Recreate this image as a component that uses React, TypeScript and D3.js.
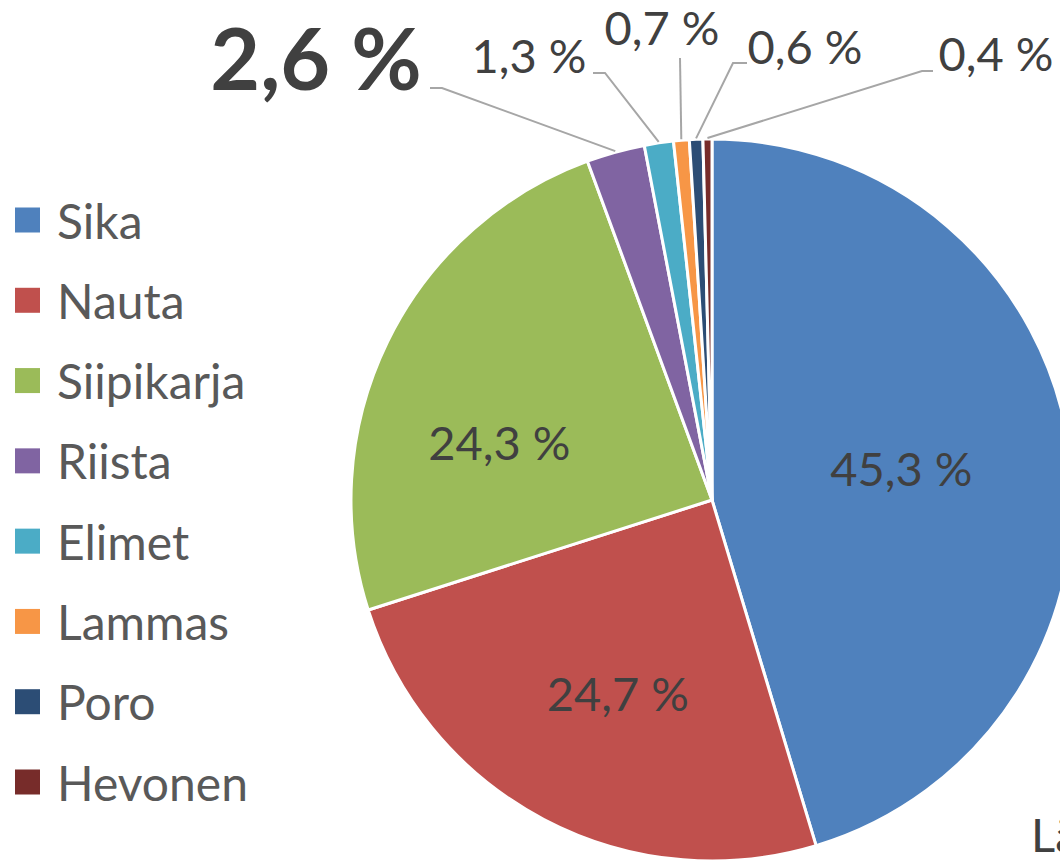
import React from "react";
import * as d3 from "d3";

const categories = ["Sika", "Nauta", "Siipikarja", "Riista", "Elimet", "Lammas", "Poro", "Hevonen"];
const values = [45.3, 24.7, 24.3, 2.6, 1.3, 0.7, 0.6, 0.4];
const labels = ["45,3 %", "24,7 %", "24,3 %", "2,6 %", "1,3 %", "0,7 %", "0,6 %", "0,4 %"];
const colors = ["#4F81BD", "#C0504D", "#9BBB59", "#8064A2", "#4BACC6", "#F79646", "#2C4D75", "#772C2A"];

// layout (not data)
const W = 1060, H = 863;
const CX = 712, CY = 500, R = 361;
const FONT = "Lato, 'Open Sans', sans-serif";
// inner labels: radius factor and small nudge
const innerLayout: Record<number, { rf: number; dx: number; dy: number }> = {
  0: { rf: 0.53, dx: 0, dy: -4 },
  1: { rf: 0.56, dx: 0, dy: 14 },
  2: { rf: 0.6, dx: -18, dy: 37 },
};
// outer labels: text anchor position, elbow point
const outerLayout: Record<number, { tx: number; ty: number; anchor: string; ex: number; ey: number; hx: number; size: number; bold?: boolean }> = {
  3: { tx: 316, ty: 90, anchor: "middle", hx: 430, ex: 442, ey: 88, size: 86, bold: true },
  4: { tx: 529, ty: 73, anchor: "middle", hx: 593, ex: 605, ey: 73, size: 47 },
  5: { tx: 662, ty: 45, anchor: "middle", hx: 680, ex: 680, ey: 58, size: 47 },
  6: { tx: 805, ty: 64, anchor: "middle", hx: 747, ex: 733, ey: 63, size: 47 },
  7: { tx: 996, ty: 71, anchor: "middle", hx: 933, ex: 922, ey: 71, size: 47 },
};

export default function App() {
  const pie = d3.pie<number>().sort(null).value((d) => d)(values);
  const arc = d3.arc<d3.PieArcDatum<number>>().innerRadius(0).outerRadius(R);
  const legendY = d3.scalePoint<string>().domain(categories).range([220, 782]);

  return (
    <svg width={W} height={H} style={{ position: "absolute", left: 0, top: 0, background: "#fff" }} fontFamily={FONT}>
      <g transform={`translate(${CX},${CY})`}>
        {pie.map((p, i) => (
          <path key={i} d={arc(p) || ""} fill={colors[i]} stroke="#fff" strokeWidth={3} strokeLinejoin="round" />
        ))}
      </g>
      {pie.map((p, i) => {
        const mid = (p.startAngle + p.endAngle) / 2;
        if (innerLayout[i]) {
          const L = innerLayout[i];
          const x = CX + Math.sin(mid) * R * L.rf + L.dx;
          const y = CY - Math.cos(mid) * R * L.rf + L.dy;
          return (
            <text key={"l" + i} x={x} y={y} textAnchor="middle" dominantBaseline="central" fontSize={47} fill="#404040">
              {labels[i]}
            </text>
          );
        }
        const O = outerLayout[i];
        const px = CX + Math.sin(mid) * (R + 1);
        const py = CY - Math.cos(mid) * (R + 1);
        const pts = O.hx === O.ex ? `${O.ex},${O.ey} ${px},${py}` : `${O.hx},${O.ey} ${O.ex},${O.ey} ${px},${py}`;
        return (
          <g key={"o" + i}>
            <polyline points={pts} fill="none" stroke="#A6A6A6" strokeWidth={2} />
            <text x={O.tx} y={O.ty} textAnchor={O.anchor as any} fontSize={O.size} fontWeight={O.bold ? 700 : 400} fill="#404040">
              {labels[i]}
            </text>
          </g>
        );
      })}
      {categories.map((c, i) => {
        const y = legendY(c) as number;
        return (
          <g key={"lg" + i}>
            <rect x={15} y={y - 12.5} width={25} height={25} fill={colors[i]} />
            <text x={57} y={y} dominantBaseline="central" fontSize={48} fill="#595959">
              {c}
            </text>
          </g>
        );
      })}
      <text x={1031} y={852} fontSize={47} fill="#404040">Lähde: Luke</text>
    </svg>
  );
}
